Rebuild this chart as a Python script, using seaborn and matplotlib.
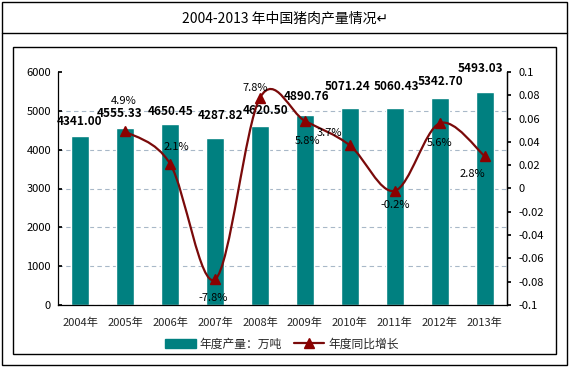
import numpy as np
import matplotlib
matplotlib.use('Agg')
import matplotlib.pyplot as plt
from matplotlib.path import Path
from matplotlib.patches import PathPatch, Rectangle
from matplotlib.lines import Line2D
import seaborn as sns

# --- data ---
years = ['2004年', '2005年', '2006年', '2007年', '2008年',
         '2009年', '2010年', '2011年', '2012年', '2013年']
output = [4341.00, 4555.33, 4650.45, 4287.82, 4620.50,
          4890.76, 5071.24, 5060.43, 5342.70, 5493.03]
growth_years = years[1:]
growth = [0.049, 0.021, -0.078, 0.078, 0.058, 0.037, -0.002, 0.056, 0.028]
growth_labels = ['4.9%', '2.1%', '-7.8%', '7.8%', '5.8%', '3.7%', '-0.2%', '5.6%', '2.8%']

# label offsets (pixels) - layout only
bar_off = [(-1, 8), (-6, 8), (0, 6), (5, 16), (6, 9), (2, 12), (-2, 15), (2, 15), (1, 10), (-4, 17)]
gr_off = [(-2, 30), (6, 17), (-2, -19), (-5, 10), (3, -20), (-20, 12), (0, -14), (0, -20), (-12, -18)]

BAR = '#008080'
LINE = '#7a0a0a'

sns.set_theme(style='white')
plt.rcParams['font.family'] = ['Noto Sans CJK SC', 'DejaVu Sans']
plt.rcParams['axes.unicode_minus'] = False

W, H = 570, 367
fig = plt.figure(figsize=(W / 100, H / 100), dpi=100)
ax = fig.add_axes([58 / W, 1 - 305 / H, (507 - 58) / W, (305 - 72) / H])

sns.barplot(x=years, y=output, color=BAR, saturation=1, width=0.4, ax=ax,
            label='年度产量：万吨')
ax.set_xlim(-0.5, 9.5)
ax.set_ylim(0, 6000)
ax.set_yticks(range(0, 6001, 1000))
ax.set_xlabel('')
ax.set_ylabel('')
ax.tick_params(axis='y', direction='in', length=3, labelsize=8, pad=5, colors='black')
ax.tick_params(axis='x', which='major', length=0, labelsize=8, pad=9)
ax.set_xticks(np.arange(-0.5, 10, 1), minor=True)
ax.tick_params(axis='x', which='minor', direction='in', length=3)
ax.yaxis.grid(True, color='#a8b8c8', linestyle=(0, (4, 3)), linewidth=0.8)
ax.set_axisbelow(True)
for g in ax.get_ygridlines()[-1:]:
    g.set_visible(False)
for s in ['left', 'bottom', 'right']:
    ax.spines[s].set_color('black')
    ax.spines[s].set_linewidth(0.9)
ax.spines['top'].set_visible(False)
if ax.get_legend():
    ax.get_legend().remove()

for i, v in enumerate(output):
    ax.annotate(f'{v:.2f}', (i, v), xytext=bar_off[i], textcoords='offset pixels',
                ha='center', va='bottom', fontsize=8.5, fontweight='bold', color='black')

# --- growth line on secondary axis ---
ax2 = ax.twinx()
ax2.set_ylim(-0.1, 0.1)
rticks = np.round(np.arange(-0.1, 0.1001, 0.02), 2)
ax2.set_yticks(rticks)
ax2.set_yticklabels([('%g' % t) for t in rticks])
ax2.tick_params(axis='y', direction='out', length=3, labelsize=8, pad=5, colors='black')
for s in ['top', 'left', 'bottom']:
    ax2.spines[s].set_visible(False)
ax2.spines['right'].set_color('black')
ax2.spines['right'].set_linewidth(0.9)

xg = np.array([years.index(y) for y in growth_years], dtype=float)
yg = np.array(growth)
pts = np.column_stack([xg, yg])
# smoothed line (Excel style bezier through the points)
verts = [pts[0]]
codes = [Path.MOVETO]
n = len(pts)
for i in range(n - 1):
    p0 = pts[i - 1] if i > 0 else pts[i]
    p1, p2 = pts[i], pts[i + 1]
    p3 = pts[i + 2] if i + 2 < n else pts[i + 1]
    c1 = p1 + (p2 - p0) / 6
    c2 = p2 - (p3 - p1) / 6
    verts += [c1, c2, p2]
    codes += [Path.CURVE4] * 3
ax2.add_patch(PathPatch(Path(verts, codes), facecolor='none', edgecolor=LINE, lw=1.6))
ax2.plot(xg, yg, ls='none', marker='^', ms=6.5, color='#8b0000', mec='#8b0000')

for i, (x, v) in enumerate(zip(xg, growth)):
    ax2.annotate(growth_labels[i], (x, v), xytext=gr_off[i], textcoords='offset pixels',
                 ha='center', va='center', fontsize=8, color='black')

# legend
handles = [Rectangle((0, 0), 1, 1, color=BAR),
           Line2D([], [], color=LINE, lw=1.6, marker='^', ms=6.5, mfc='#8b0000', mec='#8b0000')]
fig.legend(handles, ['年度产量：万吨', '年度同比增长'], loc='center',
           bbox_to_anchor=(282 / W, 1 - 344 / H), ncol=2, frameon=False, fontsize=8.5,
           handlelength=2.6, handletextpad=0.3, columnspacing=1.0)

# title and frames
fig.text(285 / W, 1 - 18 / H, '2004-2013 年中国猪肉产量情况↵', ha='center', va='center',
         fontsize=10, color='black')


def frame(x0, y0, x1, y1, lw=1.0):
    fig.add_artist(Rectangle((x0 / W, 1 - y1 / H), (x1 - x0) / W, (y1 - y0) / H,
                             transform=fig.transFigure, fill=False, ec='black', lw=lw))


frame(1.5, 1.5, 567, 365)
fig.add_artist(Line2D([1.5 / W, 567 / W], [1 - 33 / H, 1 - 33 / H], transform=fig.transFigure,
                      color='black', lw=1.0))
frame(13, 47, 556, 354)

fig.savefig('out.png', dpi=100)
